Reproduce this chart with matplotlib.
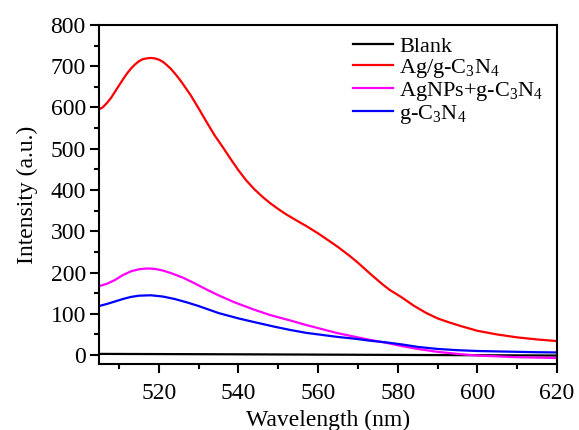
import numpy as np
import matplotlib
matplotlib.use('Agg')
import matplotlib.pyplot as plt
from matplotlib.ticker import MultipleLocator

plt.rcParams['font.family'] = ['Liberation Serif', 'DejaVu Serif']
plt.rcParams['mathtext.default'] = 'regular'

# Blank
x_blank = [505, 540, 580, 620]
y_blank = [3, 2, 0.5, -1]

# Ag/g-C3N4
x_red = [505, 506, 507, 508, 509, 510, 511, 512, 513, 514, 515, 516, 517, 518, 519, 520,
         521, 522, 523, 524, 525, 526, 528, 530, 532, 534, 536, 538, 540, 542, 544, 546,
         548, 550, 552, 555, 557, 560, 562, 565, 568, 570, 573, 576, 578, 581, 584, 587,
         590, 593, 596, 600, 605, 610, 615, 620]
y_red = [595, 601, 611, 623, 638, 653, 668, 682, 694, 704, 712, 717, 719, 720, 719, 716,
         711, 703, 694, 683, 671, 658, 630, 598, 565, 533, 505, 476, 448, 423, 402, 384,
         368, 354, 341, 324, 313, 295, 282, 262, 240, 224, 198, 173, 158, 140, 120, 103,
         89, 79, 70, 59, 50, 43, 38, 34]

# AgNPs+g-C3N4
x_mag = [505, 507, 509, 511, 513, 515, 517, 519, 521, 523, 526, 529, 532, 535, 539, 544,
         548, 553, 557, 561, 565, 569, 573, 577, 581, 585, 590, 595, 600, 605, 610, 615, 620]
y_mag = [167, 173, 182, 194, 203, 208, 210, 209, 205, 199, 188, 174, 159, 145, 128, 110,
         97, 84, 73, 63, 53, 45, 37, 30, 22, 15, 8, 3, -1, -3, -5, -6, -7]

# g-C3N4
x_blue = [505, 507, 509, 511, 513, 515, 518, 521, 524, 527, 530, 535, 540, 544, 549, 553,
          557, 561, 565, 569, 573, 577, 581, 585, 590, 595, 600, 605, 610, 615, 620]
y_blue = [119, 124, 130, 136, 141, 144, 145, 142, 136, 128, 119, 102, 89, 80, 69, 61,
          54, 49, 44, 40, 35, 31, 26, 20, 15, 12, 10, 9, 8, 7, 6.5]

fig = plt.figure(figsize=(5.79, 4.30), dpi=100)
ax = fig.add_axes([0.171, 0.153, 0.791, 0.789])

ax.plot(x_blank, y_blank, color='black', lw=1.6, label='Blank')
ax.plot(x_red, y_red, color='red', lw=1.6, label=r'Ag/g-C$_3$N$_4$')
ax.plot(x_mag, y_mag, color='magenta', lw=1.6, label=r'AgNPs+g-C$_3$N$_4$')
ax.plot(x_blue, y_blue, color='blue', lw=1.6, label=r'g-C$_3$N$_4$')

ax.set_xlim(505, 620)
ax.set_ylim(-22, 800)
ax.xaxis.set_major_locator(MultipleLocator(20))
ax.xaxis.set_minor_locator(MultipleLocator(10))
ax.yaxis.set_major_locator(MultipleLocator(100))
ax.yaxis.set_minor_locator(MultipleLocator(50))
ax.tick_params(which='both', direction='out', width=1.5, labelsize=17)
ax.tick_params(which='major', length=6.5)
ax.tick_params(which='minor', length=3.5)
ax.tick_params(axis='x', pad=7)
ax.tick_params(axis='y', pad=3)
for s in ax.spines.values():
    s.set_linewidth(1.5)

ax.set_xlabel('Wavelength (nm)', fontsize=17, labelpad=4)
ax.set_ylabel('Intensity (a.u.)', fontsize=17, labelpad=9)

ax.legend(loc='upper right', frameon=False, fontsize=16, handlelength=1.8,
          handletextpad=0.3, labelspacing=0.0, borderaxespad=0.2,
          bbox_to_anchor=(1.0, 1.005))

fig.savefig('out.png', dpi=100)
